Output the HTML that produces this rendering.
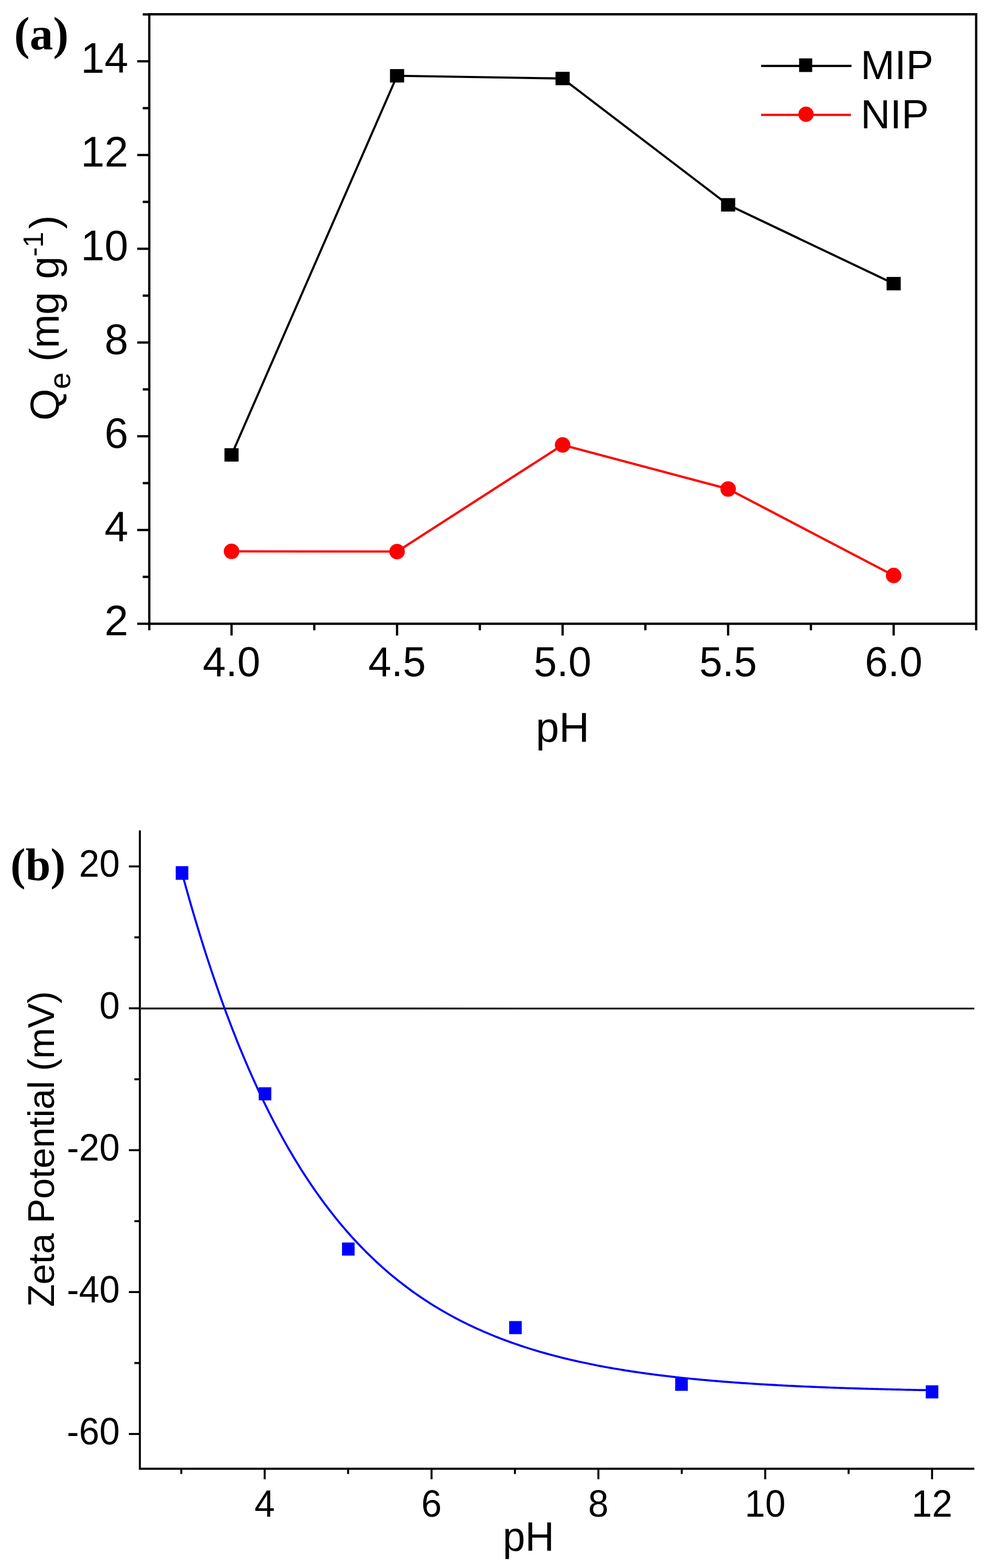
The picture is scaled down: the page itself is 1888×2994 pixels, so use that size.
<!DOCTYPE html>
<html><head><meta charset="utf-8"><style>
html,body{margin:0;padding:0;background:#fff;overflow:hidden;}
svg{display:block;}
</style></head><body>
<svg width="1888" height="2994" viewBox="0 0 1888 2994">
<rect width="1888" height="2994" fill="#fff"/>
<g stroke="#000" stroke-width="4.4" fill="none" stroke-linecap="butt">
<path d="M285,27.3 H1863.5 V1191 H285 Z" stroke-linejoin="miter"/>
<line x1="262" y1="1191.0" x2="285" y2="1191.0"/>
<line x1="272.5" y1="1101.5" x2="285" y2="1101.5"/>
<line x1="262" y1="1012.0" x2="285" y2="1012.0"/>
<line x1="272.5" y1="922.5" x2="285" y2="922.5"/>
<line x1="262" y1="833.0" x2="285" y2="833.0"/>
<line x1="272.5" y1="743.5" x2="285" y2="743.5"/>
<line x1="262" y1="654.0" x2="285" y2="654.0"/>
<line x1="272.5" y1="564.5" x2="285" y2="564.5"/>
<line x1="262" y1="475.0" x2="285" y2="475.0"/>
<line x1="272.5" y1="385.5" x2="285" y2="385.5"/>
<line x1="262" y1="296.0" x2="285" y2="296.0"/>
<line x1="272.5" y1="206.5" x2="285" y2="206.5"/>
<line x1="262" y1="117.0" x2="285" y2="117.0"/>
<line x1="272.5" y1="27.5" x2="285" y2="27.5"/>
<line x1="285.0" y1="1191" x2="285.0" y2="1203.5"/>
<line x1="442.0" y1="1191" x2="442.0" y2="1213.5"/>
<line x1="600.0" y1="1191" x2="600.0" y2="1203.5"/>
<line x1="758.0" y1="1191" x2="758.0" y2="1213.5"/>
<line x1="916.0" y1="1191" x2="916.0" y2="1203.5"/>
<line x1="1074.0" y1="1191" x2="1074.0" y2="1213.5"/>
<line x1="1232.0" y1="1191" x2="1232.0" y2="1203.5"/>
<line x1="1390.0" y1="1191" x2="1390.0" y2="1213.5"/>
<line x1="1548.0" y1="1191" x2="1548.0" y2="1203.5"/>
<line x1="1706.0" y1="1191" x2="1706.0" y2="1213.5"/>
<line x1="1863.5" y1="1191" x2="1863.5" y2="1203.5"/>
</g>
<text x="244.8" y="1213.3" font-family="Liberation Sans, Arial, sans-serif" font-size="81.5" text-anchor="end">2</text>
<text x="244.8" y="1034.3" font-family="Liberation Sans, Arial, sans-serif" font-size="81.5" text-anchor="end">4</text>
<text x="244.8" y="855.3" font-family="Liberation Sans, Arial, sans-serif" font-size="81.5" text-anchor="end">6</text>
<text x="244.8" y="676.3" font-family="Liberation Sans, Arial, sans-serif" font-size="81.5" text-anchor="end">8</text>
<text x="244.8" y="497.3" font-family="Liberation Sans, Arial, sans-serif" font-size="81.5" text-anchor="end">10</text>
<text x="244.8" y="318.3" font-family="Liberation Sans, Arial, sans-serif" font-size="81.5" text-anchor="end">12</text>
<text x="244.8" y="139.3" font-family="Liberation Sans, Arial, sans-serif" font-size="81.5" text-anchor="end">14</text>
<text x="442.0" y="1290.5" font-family="Liberation Sans, Arial, sans-serif" font-size="79" text-anchor="middle">4.0</text>
<text x="758.0" y="1290.5" font-family="Liberation Sans, Arial, sans-serif" font-size="79" text-anchor="middle">4.5</text>
<text x="1074.0" y="1290.5" font-family="Liberation Sans, Arial, sans-serif" font-size="79" text-anchor="middle">5.0</text>
<text x="1390.0" y="1290.5" font-family="Liberation Sans, Arial, sans-serif" font-size="79" text-anchor="middle">5.5</text>
<text x="1706.0" y="1290.5" font-family="Liberation Sans, Arial, sans-serif" font-size="79" text-anchor="middle">6.0</text>
<text x="1074" y="1415.8" font-family="Liberation Sans, Arial, sans-serif" font-size="80" text-anchor="middle">pH</text>
<text transform="translate(112.3,803) rotate(-90)" font-family="Liberation Sans, Arial, sans-serif" font-size="78" letter-spacing="-0.6">Q<tspan font-size="57.5" dy="22">e</tspan><tspan dy="-22"> (mg</tspan><tspan dx="4"> g</tspan><tspan font-size="54" dy="-30">-1</tspan><tspan dx="6" dy="30">)</tspan></text>
<text x="27" y="93.5" font-family="Liberation Serif, Times New Roman, serif" font-weight="bold" font-size="89">(a)</text>
<polyline fill="none" stroke="#000" stroke-width="4.1" stroke-linejoin="round" points="442,868.6 758,144.7 1074,149.9 1390,391.1 1706,541.6"/>
<polyline fill="none" stroke="#f00" stroke-width="4.3" stroke-linejoin="round" points="442,1052.7 758,1053.2 1074,849.6 1390,933.7 1706,1098.9"/>
<rect x="428.5" y="855.8000000000001" width="27" height="25.6" fill="#000"/>
<rect x="744.5" y="131.89999999999998" width="27" height="25.6" fill="#000"/>
<rect x="1060.5" y="137.1" width="27" height="25.6" fill="#000"/>
<rect x="1376.5" y="378.3" width="27" height="25.6" fill="#000"/>
<rect x="1692.5" y="528.8000000000001" width="27" height="25.6" fill="#000"/>
<circle cx="442" cy="1052.7" r="14.8" fill="#f00"/>
<circle cx="758" cy="1053.2" r="14.8" fill="#f00"/>
<circle cx="1074" cy="849.6" r="14.8" fill="#f00"/>
<circle cx="1390" cy="933.7" r="14.8" fill="#f00"/>
<circle cx="1706" cy="1098.9" r="14.8" fill="#f00"/>
<line x1="1453" y1="125.9" x2="1625.5" y2="125.9" stroke="#000" stroke-width="4.1"/>
<rect x="1525.5" y="111.5" width="25" height="26" fill="#000"/>
<line x1="1453" y1="219.4" x2="1624.5" y2="219.4" stroke="#f00" stroke-width="4.3"/>
<circle cx="1538.6" cy="218.1" r="14.6" fill="#f00"/>
<text x="1643" y="150.9" font-family="Liberation Sans, Arial, sans-serif" font-size="78">MIP</text>
<text x="1643" y="244.5" font-family="Liberation Sans, Arial, sans-serif" font-size="78">NIP</text>
<g stroke="#000" stroke-width="3.8" fill="none">
<path d="M267,1585.4 V2804.5 H1860"/>
<line x1="246" y1="2738.1" x2="267" y2="2738.1"/>
<line x1="256.5" y1="2602.6" x2="267" y2="2602.6"/>
<line x1="246" y1="2467.1" x2="267" y2="2467.1"/>
<line x1="256.5" y1="2331.7" x2="267" y2="2331.7"/>
<line x1="246" y1="2196.2" x2="267" y2="2196.2"/>
<line x1="256.5" y1="2060.8" x2="267" y2="2060.8"/>
<line x1="246" y1="1925.3" x2="267" y2="1925.3"/>
<line x1="256.5" y1="1789.8" x2="267" y2="1789.8"/>
<line x1="246" y1="1654.4" x2="267" y2="1654.4"/>
<line x1="346.1" y1="2804.5" x2="346.1" y2="2814.5"/>
<line x1="505.3" y1="2804.5" x2="505.3" y2="2824.5"/>
<line x1="664.5" y1="2804.5" x2="664.5" y2="2814.5"/>
<line x1="823.8" y1="2804.5" x2="823.8" y2="2824.5"/>
<line x1="983.0" y1="2804.5" x2="983.0" y2="2814.5"/>
<line x1="1142.3" y1="2804.5" x2="1142.3" y2="2824.5"/>
<line x1="1301.5" y1="2804.5" x2="1301.5" y2="2814.5"/>
<line x1="1460.8" y1="2804.5" x2="1460.8" y2="2824.5"/>
<line x1="1620.0" y1="2804.5" x2="1620.0" y2="2814.5"/>
<line x1="1779.3" y1="2804.5" x2="1779.3" y2="2824.5"/>
</g>
<line x1="267" y1="1925.6" x2="1860" y2="1925.8" stroke="#222" stroke-width="3.6"/>
<text transform="translate(228.6,1674.1) scale(1,1.02)" font-family="Liberation Sans, Arial, sans-serif" font-size="70" text-anchor="end">20</text>
<text transform="translate(228.6,1945.0) scale(1,1.02)" font-family="Liberation Sans, Arial, sans-serif" font-size="70" text-anchor="end">0</text>
<text transform="translate(228.6,2215.9) scale(1,1.02)" font-family="Liberation Sans, Arial, sans-serif" font-size="70" text-anchor="end">-20</text>
<text transform="translate(228.6,2486.8) scale(1,1.02)" font-family="Liberation Sans, Arial, sans-serif" font-size="70" text-anchor="end">-40</text>
<text transform="translate(228.6,2757.8) scale(1,1.02)" font-family="Liberation Sans, Arial, sans-serif" font-size="70" text-anchor="end">-60</text>
<text transform="translate(505.3,2895.5) scale(1,1.04)" font-family="Liberation Sans, Arial, sans-serif" font-size="70" text-anchor="middle">4</text>
<text transform="translate(823.8,2895.5) scale(1,1.04)" font-family="Liberation Sans, Arial, sans-serif" font-size="70" text-anchor="middle">6</text>
<text transform="translate(1142.3,2895.5) scale(1,1.04)" font-family="Liberation Sans, Arial, sans-serif" font-size="70" text-anchor="middle">8</text>
<text transform="translate(1460.8,2895.5) scale(1,1.04)" font-family="Liberation Sans, Arial, sans-serif" font-size="70" text-anchor="middle">10</text>
<text transform="translate(1779.3,2895.5) scale(1,1.04)" font-family="Liberation Sans, Arial, sans-serif" font-size="70" text-anchor="middle">12</text>
<text x="1009" y="2961" font-family="Liberation Sans, Arial, sans-serif" font-size="77" text-anchor="middle">pH</text>
<text transform="translate(102.8,2495.5) rotate(-90)" font-family="Liberation Sans, Arial, sans-serif" font-size="71" textLength="603">Zeta Potential (mV)</text>
<text x="20" y="1680" font-family="Liberation Serif, Times New Roman, serif" font-weight="bold" font-size="86">(b)</text>
<polyline fill="none" stroke="#00f" stroke-width="3.9" points="346.1,1661.5 350.8,1679.1 355.6,1696.4 360.4,1713.4 365.2,1730.1 370.0,1746.5 374.8,1762.6 379.6,1778.4 384.4,1794.0 389.2,1809.3 394.0,1824.3 398.8,1839.0 403.6,1853.5 408.4,1867.7 413.2,1881.7 418.0,1895.4 422.7,1908.9 427.5,1922.1 432.3,1935.2 437.1,1947.9 441.9,1960.5 446.7,1972.8 451.5,1985.0 456.3,1996.9 461.1,2008.6 465.9,2020.1 470.7,2031.3 475.5,2042.4 480.3,2053.3 485.1,2064.0 489.9,2074.5 494.6,2084.9 499.4,2095.0 504.2,2105.0 509.0,2114.7 513.8,2124.4 518.6,2133.8 523.4,2143.1 528.2,2152.2 533.0,2161.2 537.8,2169.9 542.6,2178.6 547.4,2187.1 552.2,2195.4 557.0,2203.6 561.8,2211.7 566.6,2219.6 571.3,2227.3 576.1,2235.0 580.9,2242.4 585.7,2249.8 590.5,2257.0 595.3,2264.1 600.1,2271.1 604.9,2278.0 609.7,2284.7 614.5,2291.3 619.3,2297.8 624.1,2304.2 628.9,2310.5 633.7,2316.6 638.5,2322.7 643.2,2328.6 648.0,2334.5 652.8,2340.2 657.6,2345.8 662.4,2351.4 667.2,2356.8 672.0,2362.2 676.8,2367.4 681.6,2372.6 686.4,2377.6 691.2,2382.6 696.0,2387.5 700.8,2392.3 705.6,2397.0 710.4,2401.6 715.1,2406.2 719.9,2410.7 724.7,2415.0 729.5,2419.4 734.3,2423.6 739.1,2427.8 743.9,2431.9 748.7,2435.9 753.5,2439.8 758.3,2443.7 763.1,2447.5 767.9,2451.2 772.7,2454.9 777.5,2458.5 782.3,2462.1 787.0,2465.6 791.8,2469.0 796.6,2472.3 801.4,2475.6 806.2,2478.9 811.0,2482.1 815.8,2485.2 820.6,2488.3 825.4,2491.3 830.2,2494.3 835.0,2497.2 839.8,2500.1 844.6,2502.9 849.4,2505.6 854.2,2508.4 859.0,2511.0 863.7,2513.6 868.5,2516.2 873.3,2518.7 878.1,2521.2 882.9,2523.7 887.7,2526.1 892.5,2528.4 897.3,2530.7 902.1,2533.0 906.9,2535.2 911.7,2537.4 916.5,2539.6 921.3,2541.7 926.1,2543.8 930.9,2545.8 935.6,2547.8 940.4,2549.8 945.2,2551.7 950.0,2553.6 954.8,2555.5 959.6,2557.3 964.4,2559.1 969.2,2560.9 974.0,2562.6 978.8,2564.4 983.6,2566.0 988.4,2567.7 993.2,2569.3 998.0,2570.9 1002.8,2572.5 1007.6,2574.0 1012.3,2575.5 1017.1,2577.0 1021.9,2578.4 1026.7,2579.9 1031.5,2581.3 1036.3,2582.7 1041.1,2584.0 1045.9,2585.3 1050.7,2586.7 1055.5,2587.9 1060.3,2589.2 1065.1,2590.4 1069.9,2591.7 1074.7,2592.9 1079.5,2594.0 1084.2,2595.2 1089.0,2596.3 1093.8,2597.4 1098.6,2598.5 1103.4,2599.6 1108.2,2600.7 1113.0,2601.7 1117.8,2602.7 1122.6,2603.7 1127.4,2604.7 1132.2,2605.7 1137.0,2606.6 1141.8,2607.6 1146.6,2608.5 1151.4,2609.4 1156.1,2610.3 1160.9,2611.1 1165.7,2612.0 1170.5,2612.8 1175.3,2613.6 1180.1,2614.4 1184.9,2615.2 1189.7,2616.0 1194.5,2616.8 1199.3,2617.5 1204.1,2618.3 1208.9,2619.0 1213.7,2619.7 1218.5,2620.4 1223.3,2621.1 1228.0,2621.8 1232.8,2622.5 1237.6,2623.1 1242.4,2623.8 1247.2,2624.4 1252.0,2625.0 1256.8,2625.6 1261.6,2626.2 1266.4,2626.8 1271.2,2627.4 1276.0,2627.9 1280.8,2628.5 1285.6,2629.0 1290.4,2629.6 1295.2,2630.1 1300.0,2630.6 1304.7,2631.1 1309.5,2631.6 1314.3,2632.1 1319.1,2632.6 1323.9,2633.1 1328.7,2633.5 1333.5,2634.0 1338.3,2634.5 1343.1,2634.9 1347.9,2635.3 1352.7,2635.8 1357.5,2636.2 1362.3,2636.6 1367.1,2637.0 1371.9,2637.4 1376.6,2637.8 1381.4,2638.2 1386.2,2638.5 1391.0,2638.9 1395.8,2639.3 1400.6,2639.6 1405.4,2640.0 1410.2,2640.3 1415.0,2640.7 1419.8,2641.0 1424.6,2641.3 1429.4,2641.6 1434.2,2641.9 1439.0,2642.3 1443.8,2642.6 1448.5,2642.9 1453.3,2643.2 1458.1,2643.4 1462.9,2643.7 1467.7,2644.0 1472.5,2644.3 1477.3,2644.5 1482.1,2644.8 1486.9,2645.1 1491.7,2645.3 1496.5,2645.6 1501.3,2645.8 1506.1,2646.1 1510.9,2646.3 1515.7,2646.5 1520.5,2646.8 1525.2,2647.0 1530.0,2647.2 1534.8,2647.4 1539.6,2647.6 1544.4,2647.8 1549.2,2648.0 1554.0,2648.2 1558.8,2648.4 1563.6,2648.6 1568.4,2648.8 1573.2,2649.0 1578.0,2649.2 1582.8,2649.4 1587.6,2649.6 1592.4,2649.7 1597.1,2649.9 1601.9,2650.1 1606.7,2650.2 1611.5,2650.4 1616.3,2650.6 1621.1,2650.7 1625.9,2650.9 1630.7,2651.0 1635.5,2651.2 1640.3,2651.3 1645.1,2651.5 1649.9,2651.6 1654.7,2651.7 1659.5,2651.9 1664.3,2652.0 1669.0,2652.1 1673.8,2652.3 1678.6,2652.4 1683.4,2652.5 1688.2,2652.6 1693.0,2652.8 1697.8,2652.9 1702.6,2653.0 1707.4,2653.1 1712.2,2653.2 1717.0,2653.3 1721.8,2653.4 1726.6,2653.6 1731.4,2653.7 1736.2,2653.8 1741.0,2653.9 1745.7,2654.0 1750.5,2654.1 1755.3,2654.2 1760.1,2654.2 1764.9,2654.3 1769.7,2654.4 1774.5,2654.5 1779.3,2654.6"/>
<rect x="335.5" y="1653.9" width="24" height="26" fill="#00f"/>
<rect x="493.9" y="2076.1" width="24" height="25" fill="#00f"/>
<rect x="652.9" y="2372.5" width="24" height="25" fill="#00f"/>
<rect x="972" y="2522.5" width="24" height="25" fill="#00f"/>
<rect x="1289" y="2630.7" width="24" height="25" fill="#00f"/>
<rect x="1767.3" y="2645.2" width="24" height="25" fill="#00f"/>
</svg>
</body></html>
